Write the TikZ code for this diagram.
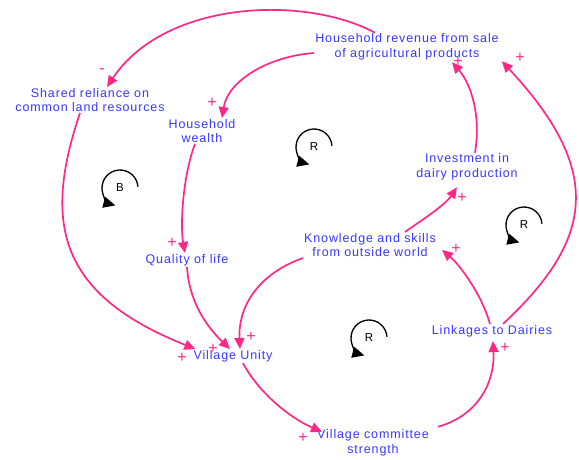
\documentclass[tikz,border=0pt]{standalone}
\usepackage{fontspec}
\setmainfont{Liberation Sans}
\newfontfamily\varfont[LetterSpace=7]{Liberation Sans}
\usetikzlibrary{arrows.meta}
\definecolor{varblue}{RGB}{55,55,255}
\definecolor{linkpink}{RGB}{255,40,135}
\tikzset{
  var/.style={text=varblue, font=\varfont\fontsize{12.5}{14.5}\selectfont, align=center, inner sep=1pt},
  link/.style={draw=linkpink, line width=1.7pt, -{Triangle[length=11pt,width=10pt]}},
  sgn/.style={text=linkpink, font=\fontsize{16}{16}\selectfont, inner sep=0pt},
  looplbl/.style={text=black, font=\fontsize{11.5}{13}\selectfont, inner sep=0pt},
  looparc/.style={draw=black, line width=1.3pt, -{Triangle[length=12pt,width=11pt]}}
}
\begin{document}
\begin{tikzpicture}[x=1pt,y=-1pt]
\useasboundingbox (0,0) rectangle (579,459);
% variables
\node[var] (rev) at (407,47) {Household revenue from sale\\of agricultural products};
\node[var] (shared) at (90,100) {Shared reliance on\\common land resources};
\node[var] (wealth) at (202,131) {Household\\wealth};
\node[var] (quality) at (187,260) {Quality of life};
\node[var] (unity) at (233,356) {Village Unity};
\node[var] (committee) at (373,443) {Village committee\\strength};
\node[var] (linkages) at (492,331) {Linkages to Dairies};
\node[var] (knowledge) at (370,245) {Knowledge and skills\\from outside world};
\node[var] (invest) at (467,167) {Investment in\\dairy production};
% connectors
\draw[link] ([xshift=-32pt]rev.north) .. controls (305,-5) and (165,0) .. ([xshift=17pt]shared.north);
\draw[link] ([yshift=-6pt]rev.west) .. controls (270,56) and (228,80) .. ([xshift=20pt]wealth.north);
\draw[link] ([xshift=-10pt]shared.south) .. controls (42,225) and (60,295) .. ([xshift=3pt]unity.north west);
\draw[link] ([xshift=-7pt]wealth.south) .. controls (183,175) and (180,225) .. ([xshift=-2pt]quality.north);
\draw[link] (quality.south) .. controls (189,300) and (205,325) .. ([xshift=-3pt]unity.north);
\draw[link] (knowledge.south west) .. controls (255,275) and (238,310) .. ([xshift=7pt]unity.north);
\draw[link] ([xshift=10pt]unity.south) .. controls (258,392) and (290,418) .. ([xshift=6pt,yshift=-3pt]committee.north west);
\draw[link] ([xshift=8pt,yshift=2pt]committee.north east) .. controls (480,415) and (495,380) .. ([xshift=1pt,yshift=-3pt]linkages.south);
\draw[link] ([xshift=-2pt]linkages.north) .. controls (482,295) and (460,265) .. ([xshift=5pt,yshift=-5pt]knowledge.east);
\draw[link] ([xshift=35pt]knowledge.north) .. controls (425,218) and (445,205) .. ([xshift=-10pt,yshift=-6pt]invest.south);
\draw[link] ([xshift=8pt]invest.north) .. controls (481,118) and (472,85) .. ([xshift=45pt,yshift=-1pt]rev.south);
\draw[link] ([xshift=11pt]linkages.north) .. controls (593,240) and (605,172) .. ([xshift=2pt]rev.south east);
% polarity signs
\node[sgn] (s1) at (102,71) {-};
\node[sgn] (s2) at (212,103) {+};
\node[sgn] (s3) at (182,358) {+};
\node[sgn] (s4) at (172,243) {+};
\node[sgn] (s5) at (213,349) {+};
\node[sgn] (s6) at (251,337) {+};
\node[sgn] (s7) at (303,438) {+};
\node[sgn] (s8) at (505,348) {+};
\node[sgn] (s9) at (456,249) {+};
\node[sgn] (s10) at (462,198) {+};
\node[sgn] (s11) at (458,62) {+};
\node[sgn] (s12) at (520,58) {+};
% loop markers
\node[looplbl] (lb) at (120,188) {B};
\node[looplbl] (lr1) at (314,147) {R};
\node[looplbl] (lr2) at (524,225) {R};
\node[looplbl] (lr3) at (369,338) {R};
\draw[looparc] ([shift={(4:18pt)}]lb.center) arc[start angle=4, end angle=255, radius=18pt];
\draw[looparc] ([shift={(4:18pt)}]lr1.center) arc[start angle=4, end angle=255, radius=18pt];
\draw[looparc] ([shift={(4:18pt)}]lr2.center) arc[start angle=4, end angle=255, radius=18pt];
\draw[looparc] ([shift={(4:18pt)}]lr3.center) arc[start angle=4, end angle=255, radius=18pt];
\end{tikzpicture}
\end{document}
